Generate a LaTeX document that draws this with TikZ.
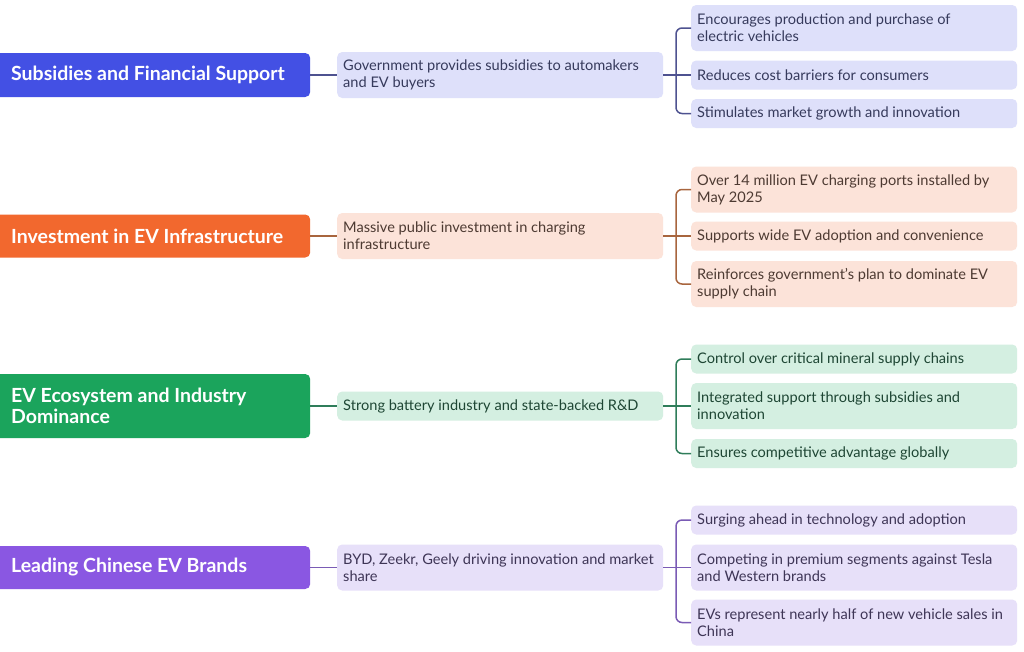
\documentclass[tikz,border=0pt]{standalone}
\usepackage{fontspec}
\setmainfont{Lato}
\definecolor{bL}{HTML}{4350E4}
\definecolor{bM}{HTML}{DEE0FA}
\definecolor{bT}{HTML}{363A5C}
\definecolor{bC}{HTML}{4E5290}
\definecolor{oL}{HTML}{F2682E}
\definecolor{oM}{HTML}{FCE3D9}
\definecolor{oT}{HTML}{4D3A32}
\definecolor{oC}{HTML}{A8653E}
\definecolor{gL}{HTML}{1BA45C}
\definecolor{gM}{HTML}{D4EFE1}
\definecolor{gT}{HTML}{1E4634}
\definecolor{gC}{HTML}{2F7D5A}
\definecolor{pL}{HTML}{8A57E2}
\definecolor{pM}{HTML}{E7E0F9}
\definecolor{pT}{HTML}{3E3556}
\definecolor{pC}{HTML}{7A5BB5}
\begin{document}
\begin{tikzpicture}[x=1pt,y=-1pt,
  lbox/.style={rounded corners=5pt, anchor=west, inner xsep=19pt, inner ysep=0pt,
    text width=280pt, align=flush left, minimum height=#1,
    font=\fontsize{19.5}{21}\selectfont\bfseries, text=white},
  mbox/.style={rounded corners=5pt, anchor=west, inner xsep=6pt, inner ysep=0pt,
    text width=314pt, align=flush left, minimum height=#1,
    font=\fontsize{14.6}{17}\selectfont},
  bcol/.style={fill=bM, text=bT}, ocol/.style={fill=oM, text=oT},
  gcol/.style={fill=gM, text=gT}, pcol/.style={fill=pM, text=pT},
  conn/.style={draw=#1, line width=1.5pt},
  brk/.style={draw=#1, line width=1.5pt, rounded corners=6pt}]
\clip (0,0) rectangle (1024,651);
\fill[white] (0,0) rectangle (1024,651);

% Row 1
\node[lbox=44, fill=bL] (l1) at (-8,75) {Subsidies and Financial Support};
\node[mbox=46, bcol] (m1) at (337,75) {Government provides subsidies to automakers\\and EV buyers};
\node[mbox=46, bcol] (r1a) at (691,28) {Encourages production and purchase of\\electric vehicles};
\node[mbox=29, bcol] (r1b) at (691,75) {Reduces cost barriers for consumers};
\node[mbox=29, bcol] (r1c) at (691,113.5) {Stimulates market growth and innovation};
\coordinate (b1) at (676,75);
\draw[conn=bC] (l1.east) -- (m1.west);
\draw[conn=bC] (m1.east) -- (r1b.west);
\draw[brk=bC] (r1a.west) -| (b1) |- (r1c.west);

% Row 2
\node[lbox=43, fill=oL] (l2) at (-8,236) {Investment in EV Infrastructure};
\node[mbox=46, ocol] (m2) at (337,236) {Massive public investment in charging\\infrastructure};
\node[mbox=46, ocol] (r2a) at (691,189.5) {Over 14 million EV charging ports installed by\\May 2025};
\node[mbox=29, ocol] (r2b) at (691,236) {Supports wide EV adoption and convenience};
\node[mbox=46, ocol] (r2c) at (691,284) {Reinforces government’s plan to dominate EV\\supply chain};
\coordinate (b2) at (676,236);
\draw[conn=oC] (l2.east) -- (m2.west);
\draw[conn=oC] (m2.east) -- (r2b.west);
\draw[brk=oC] (r2a.west) -| (b2) |- (r2c.west);

% Row 3
\node[lbox=64, fill=gL] (l3) at (-8,406) {EV Ecosystem and Industry\\Dominance};
\node[mbox=29, gcol] (m3) at (337,406) {Strong battery industry and state-backed R\&D};
\node[mbox=29, gcol] (r3a) at (691,359) {Control over critical mineral supply chains};
\node[mbox=46, gcol] (r3b) at (691,406) {Integrated support through subsidies and\\innovation};
\node[mbox=29, gcol] (r3c) at (691,453.5) {Ensures competitive advantage globally};
\coordinate (b3) at (676,406);
\draw[conn=gC] (l3.east) -- (m3.west);
\draw[conn=gC] (m3.east) -- (r3b.west);
\draw[brk=gC] (r3a.west) -| (b3) |- (r3c.west);

% Row 4
\node[lbox=43, fill=pL] (l4) at (-8,567.5) {Leading Chinese EV Brands};
\node[mbox=46, pcol] (m4) at (337,567.5) {BYD, Zeekr, Geely driving innovation and market\\share};
\node[mbox=29, pcol] (r4a) at (691,520) {Surging ahead in technology and adoption};
\node[mbox=46, pcol] (r4b) at (691,567.5) {Competing in premium segments against Tesla\\and Western brands};
\node[mbox=46, pcol] (r4c) at (691,622.5) {EVs represent nearly half of new vehicle sales in\\China};
\coordinate (b4) at (676,567.5);
\draw[conn=pC] (l4.east) -- (m4.west);
\draw[conn=pC] (m4.east) -- (r4b.west);
\draw[brk=pC] (r4a.west) -| (b4) |- (r4c.west);
\end{tikzpicture}
\end{document}
